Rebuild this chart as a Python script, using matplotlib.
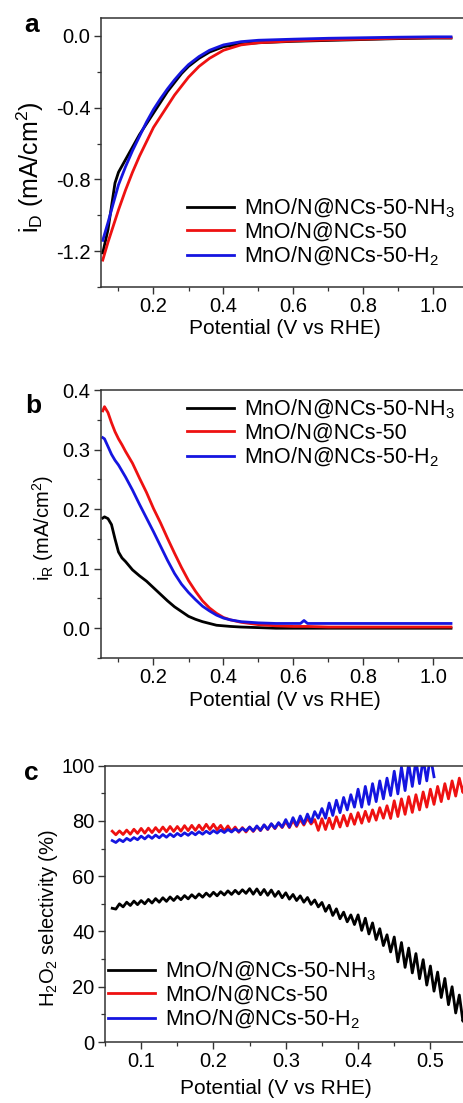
import numpy as np
import matplotlib
matplotlib.use('Agg')
from matplotlib import pyplot as plt
from matplotlib.ticker import MultipleLocator

plt.rcParams['font.family'] = ['Liberation Sans', 'DejaVu Sans']
plt.rcParams['mathtext.fontset'] = 'custom'
plt.rcParams['mathtext.rm'] = 'Liberation Sans'
plt.rcParams['mathtext.it'] = 'Liberation Sans:italic'
plt.rcParams['axes.unicode_minus'] = False

# Sample names and colours.
names = ['MnO/N@NCs-50-NH$_3$', 'MnO/N@NCs-50', 'MnO/N@NCs-50-H$_2$']
colors = ['#000000', '#ee1111', '#1515e0']

# Panel a: disk current.
volt_a = [0.055, 0.07, 0.08, 0.09, 0.1, 0.12, 0.14, 0.16, 0.18, 0.2, 0.22, 0.24, 0.26,
          0.28, 0.3, 0.33, 0.36, 0.4, 0.45, 0.5, 0.6, 0.7, 0.8, 0.9, 1.0, 1.05]
id_nh3 = [-1.21, -1.08, -0.95, -0.82, -0.76, -0.69, -0.62, -0.55, -0.49, -0.43, -0.37, -0.31,
          -0.26, -0.21, -0.17, -0.125, -0.09, -0.06, -0.045, -0.038, -0.03, -0.025, -0.02,
          -0.015, -0.012, -0.012]
id_50 = [-1.25, -1.15, -1.09, -1.03, -0.97, -0.86, -0.76, -0.67, -0.59, -0.51, -0.45, -0.39,
         -0.33, -0.28, -0.23, -0.17, -0.125, -0.08, -0.05, -0.038, -0.028, -0.022, -0.018,
         -0.013, -0.01, -0.01]
id_h2 = [-1.14, -1.04, -0.97, -0.90, -0.83, -0.73, -0.64, -0.56, -0.48, -0.41, -0.35, -0.295,
         -0.245, -0.2, -0.16, -0.115, -0.08, -0.05, -0.032, -0.024, -0.018, -0.013, -0.01,
         -0.007, -0.005, -0.005]

# Panel b: ring current.
volt_b = [0.055, 0.06, 0.07, 0.08, 0.09, 0.1, 0.11, 0.12, 0.14, 0.16, 0.18, 0.2, 0.22, 0.24,
          0.26, 0.28, 0.3, 0.32, 0.34, 0.36, 0.38, 0.4, 0.42, 0.45, 0.5, 0.55, 0.6, 0.62,
          0.63, 0.64, 0.7, 0.8, 0.9, 1.0, 1.05]
ir_nh3 = [0.185, 0.187, 0.184, 0.174, 0.150, 0.128, 0.118, 0.112, 0.098, 0.088, 0.079, 0.068,
          0.057, 0.046, 0.036, 0.028, 0.020, 0.015, 0.011, 0.008, 0.005, 0.004, 0.003, 0.002,
          0.001, 0.0, 0.0, 0.0, 0.0, 0.0, 0.0, 0.0, 0.0, 0.0, 0.0]
ir_50 = [0.365, 0.372, 0.362, 0.345, 0.330, 0.318, 0.308, 0.297, 0.277, 0.252, 0.228, 0.201,
         0.177, 0.151, 0.126, 0.102, 0.080, 0.062, 0.046, 0.034, 0.025, 0.018, 0.014, 0.010,
         0.006, 0.004, 0.003, 0.003, 0.003, 0.003, 0.002, 0.002, 0.002, 0.002, 0.002]
ir_h2 = [0.320, 0.318, 0.305, 0.292, 0.282, 0.274, 0.264, 0.254, 0.232, 0.208, 0.185, 0.162,
         0.138, 0.114, 0.092, 0.074, 0.060, 0.048, 0.037, 0.029, 0.022, 0.017, 0.014, 0.011,
         0.009, 0.008, 0.008, 0.008, 0.013, 0.008, 0.008, 0.008, 0.008, 0.008, 0.008]

# Panel c: H2O2 selectivity, sampled every 5 mV.
volt_c = np.round(np.arange(0.06, 0.5501, 0.005), 3)
sel_nh3 = [48.4, 48.1, 50.0, 48.9, 50.6, 49.4, 51.0, 49.7, 51.2, 50.0, 51.6, 50.3, 51.9, 50.6,
           52.2, 50.9, 52.5, 51.2, 52.7, 51.5, 53.0, 51.8, 53.3, 52.1, 53.6, 52.4, 53.9, 52.7,
           54.2, 52.9, 54.4, 53.2, 54.7, 53.4, 54.9, 53.6, 55.1, 53.8, 55.5, 53.5, 55.4, 53.3,
           55.2, 53.1, 55.0, 52.7, 54.5, 52.2, 54.0, 51.7, 53.4, 51.2, 52.9, 50.6, 52.3, 49.8,
           51.4, 48.9, 50.5, 47.3, 49.5, 45.8, 48.2, 44.6, 47.0, 43.5, 46.0, 42.5, 46.0, 40.4,
           44.8, 39.1, 43.1, 37.1, 41.0, 34.9, 38.8, 32.6, 38.0, 29.0, 36.0, 27.0, 34.0, 25.0,
           32.0, 22.9, 29.8, 20.6, 27.5, 18.4, 25.3, 16.1, 23.0, 13.5, 20.0, 10.5, 17.0, 7.5,
           14.0]
sel_50 = [76.3, 75.0, 76.4, 75.1, 76.7, 75.2, 77.0, 75.5, 77.3, 75.6, 77.4, 75.8, 77.6, 76.0,
          77.8, 76.1, 78.0, 76.2, 78.0, 76.3, 78.3, 76.5, 78.4, 76.6, 78.5, 76.7, 78.8, 76.9,
          78.8, 76.8, 78.4, 76.4, 78.2, 76.2, 77.8, 75.9, 77.6, 76.0, 77.8, 76.2, 78.0, 76.5,
          78.5, 76.9, 78.9, 77.2, 79.2, 77.6, 79.8, 77.6, 80.2, 78.0, 80.6, 78.5, 81.0, 78.9,
          80.5, 76.6, 80.8, 76.9, 81.0, 77.2, 81.5, 77.8, 82.0, 78.2, 82.5, 78.8, 83.0, 79.2,
          83.5, 79.8, 84.0, 80.3, 84.8, 81.0, 85.5, 80.9, 87.3, 81.6, 88.0, 82.4, 88.8, 83.1,
          89.5, 84.0, 90.5, 85.0, 91.5, 86.0, 92.5, 87.0, 93.5, 88.0, 94.5, 89.0, 95.5, 90.3,
          97.0]
sel_h2 = [72.9, 72.2, 73.3, 72.5, 73.7, 72.9, 74.0, 73.2, 74.5, 73.5, 74.7, 73.7, 74.9, 73.9,
          75.1, 74.1, 75.3, 74.3, 75.5, 74.6, 75.7, 74.8, 75.9, 75.0, 76.1, 75.2, 76.3, 75.4,
          76.5, 75.6, 76.7, 75.8, 76.9, 76.0, 77.1, 76.2, 77.3, 76.4, 77.8, 76.4, 78.2, 76.6,
          78.6, 77.0, 79.0, 77.4, 79.4, 77.8, 80.5, 77.8, 81.2, 78.4, 81.8, 79.0, 82.5, 79.5,
          83.4, 81.0, 84.5, 81.0, 86.5, 82.0, 87.5, 83.0, 88.5, 84.0, 89.5, 85.0, 91.5, 85.0,
          92.5, 86.0, 93.5, 87.0, 94.5, 88.0, 95.5, 89.2, 98.0, 89.8, 99.5, 91.0, 100.8, 92.5,
          102.0, 93.5, 102.5, 94.5, 103.5, 96.0]


def styleAxis(ax):
  for s in ax.spines.values():
    s.set_color('#333333')
    s.set_linewidth(1.1)
  ax.tick_params(which='both', direction='out', labelsize=14.5, color='#333333', pad=2.5)
  ax.tick_params(which='major', length=5, width=1.0)
  ax.tick_params(which='minor', length=3, width=0.9)


def addLegend(fig, ax, x, y):
  ax.legend(loc='upper left', bbox_to_anchor=(x / W, 1 - y / H), bbox_transform=fig.transFigure,
            frameon=False, fontsize=15.5, handlelength=2.2, handletextpad=0.45,
            labelspacing=0.08, borderpad=0, borderaxespad=0)


W, H = 464, 1103
fig = plt.figure(figsize=(W / 100, H / 100), dpi=100)

# Panel a.
axA = fig.add_axes([101 / W, 1 - 287 / H, 367.5 / W, 269 / H])
for ys, c, n in zip([id_nh3, id_50, id_h2], colors, names):
  axA.plot(volt_a, ys, color=c, lw=2.0, label=n)
axA.set_xlim(0.05, 1.1)
axA.set_ylim(-1.4, 0.1)
axA.set_xticks([0.2, 0.4, 0.6, 0.8, 1.0])
axA.xaxis.set_minor_locator(MultipleLocator(0.1))
axA.yaxis.set_major_locator(MultipleLocator(0.4))
axA.yaxis.set_minor_locator(MultipleLocator(0.2))
styleAxis(axA)
addLegend(fig, axA, 187, 197)
fig.text(285 / W, 1 - 329 / H, 'Potential (V vs RHE)', ha='center', va='center', fontsize=15)
fig.text(30 / W, 1 - 167 / H, 'i$_\\mathrm{D}$ (mA/cm$^2$)', rotation=90, ha='center',
         va='center', fontsize=18)
fig.text(32 / W, 1 - 25 / H, 'a', ha='center', va='center', fontsize=19, fontweight='bold')

# Panel b.
axB = fig.add_axes([101 / W, 1 - 658 / H, 367.5 / W, 268 / H])
for ys, c, n in zip([ir_nh3, ir_50, ir_h2], colors, names):
  axB.plot(volt_b, ys, color=c, lw=2.0, label=n)
axB.set_xlim(0.05, 1.1)
axB.set_ylim(-0.05, 0.4)
axB.set_xticks([0.2, 0.4, 0.6, 0.8, 1.0])
axB.xaxis.set_minor_locator(MultipleLocator(0.1))
axB.yaxis.set_major_locator(MultipleLocator(0.1))
axB.yaxis.set_minor_locator(MultipleLocator(0.05))
styleAxis(axB)
addLegend(fig, axB, 187, 398)
fig.text(285 / W, 1 - 700 / H, 'Potential (V vs RHE)', ha='center', va='center', fontsize=15)
fig.text(43 / W, 1 - 528 / H, 'i$_\\mathrm{R}$ (mA/cm$^2$)', rotation=90, ha='center',
         va='center', fontsize=14.5)
fig.text(33 / W, 1 - 406 / H, 'b', ha='center', va='center', fontsize=19, fontweight='bold')

# Panel c.
axC = fig.add_axes([105 / W, 1 - 1042 / H, 397.7 / W, 276.3 / H])
axC.plot(volt_c, sel_nh3, color=colors[0], lw=2.0, label=names[0])
axC.plot(volt_c, sel_50, color=colors[1], lw=2.0, label=names[1])
axC.plot(volt_c[:len(sel_h2)], sel_h2, color=colors[2], lw=2.0, label=names[2])
axC.set_xlim(0.05, 0.6)
axC.set_ylim(0, 100)
axC.set_xticks([0.1, 0.2, 0.3, 0.4, 0.5])
axC.xaxis.set_minor_locator(MultipleLocator(0.05))
axC.yaxis.set_major_locator(MultipleLocator(20))
axC.yaxis.set_minor_locator(MultipleLocator(10))
styleAxis(axC)
addLegend(fig, axC, 108, 960)
fig.text(276 / W, 1 - 1089 / H, 'Potential (V vs RHE)', ha='center', va='center', fontsize=15)
fig.text(49 / W, 1 - 918 / H, 'H$_2$O$_2$ selectivity (%)', rotation=90, ha='center',
         va='center', fontsize=14.5)
fig.text(31 / W, 1 - 773 / H, 'c', ha='center', va='center', fontsize=19, fontweight='bold')

fig.savefig('out.png', dpi=100)
